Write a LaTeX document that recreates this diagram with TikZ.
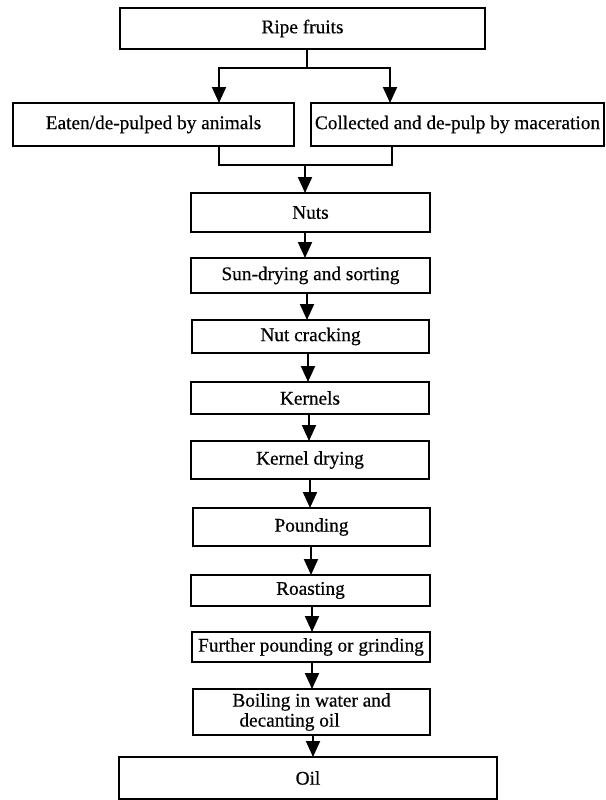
\documentclass[tikz,border=0pt]{standalone}
\usepackage{fontspec}
\setmainfont{Liberation Serif}[FakeBold=0.5]
\usetikzlibrary{arrows.meta,calc}
\begin{document}
\begin{tikzpicture}[x=1pt,y=-1pt,
  box/.style={draw=black,line width=2pt,inner sep=0pt,outer sep=0pt,fill=white,
    font=\fontsize{19.3}{20}\selectfont},
  conn/.style={draw=black,line width=2pt},
  arr/.style={conn,-{Triangle[width=14pt,length=16pt]}}]
\useasboundingbox[fill=white] (0,0) rectangle (605,800);
% boxes
\node[box,minimum width=365pt,minimum height=41pt] (ripe) at (302.5,28.5) {Ripe fruits};
\node[box,minimum width=281pt,minimum height=43pt] (left) at (153.5,124.5) {Eaten/de-pulped by animals};
\node[box,minimum width=293pt,minimum height=43pt] (right) at (457.5,124.5) {Collected and de-pulp by maceration};
\node[box,minimum width=239pt,minimum height=39pt] (nuts) at (310.5,212.5) {Nuts};
\node[box,minimum width=239pt,minimum height=35pt] (sun) at (310.5,275.5) {Sun-drying and sorting};
\node[box,minimum width=237pt,minimum height=33pt] (crack) at (310.5,336.5) {Nut cracking};
\node[box,minimum width=238pt,minimum height=32pt] (kern) at (310,398) {Kernels};
\node[box,minimum width=238pt,minimum height=38pt] (kdry) at (310,460) {Kernel drying};
\node[box,minimum width=237pt,minimum height=38pt] (pound) at (311.5,527) {Pounding};
\node[box,minimum width=239pt,minimum height=31pt] (roast) at (310.5,590.5) {Roasting};
\node[box,minimum width=238pt,minimum height=30pt] (further) at (311,647) {Further pounding or grinding};
\node[box,minimum width=237pt,minimum height=46pt,align=left] (boil) at (311.5,712) {Boiling in water and\\\hspace{7pt}decanting oil};
\node[box,minimum width=378pt,minimum height=42pt] (oil) at (308,778) {Oil};
% split
\coordinate (j1) at (307,68);
\coordinate (bl) at (219,68);
\coordinate (br) at (390,68);
\draw[conn] (ripe.south -| j1) -- (j1);
\draw[arr] (j1) -- (bl) -- (bl |- left.north);
\draw[arr] (j1) -- (br) -- (br |- right.north);
% merge
\coordinate (ml) at (219,165);
\coordinate (mr) at (392,165);
\coordinate (mm) at (305,165);
\draw[conn] (ml |- left.south) -- (ml) -- (mr) -- (mr |- right.south);
\draw[arr] (mm) -- (mm |- nuts.north);
% chain
\draw[arr] ([xshift=-5.5pt]nuts.south) -- ([xshift=-5.5pt]nuts.south |- sun.north);
\draw[arr] ([xshift=-3.5pt]sun.south) -- ([xshift=-3.5pt]sun.south |- crack.north);
\draw[arr] ([xshift=-2.5pt]crack.south) -- ([xshift=-2.5pt]crack.south |- kern.north);
\draw[arr] ([xshift=-1pt]kern.south) -- ([xshift=-1pt]kern.south |- kdry.north);
\draw[arr] (kdry.south) -- (kdry.south |- pound.north);
\draw[arr] ([xshift=-0.5pt]pound.south) -- ([xshift=-0.5pt]pound.south |- roast.north);
\draw[arr] ([xshift=1.5pt]roast.south) -- ([xshift=1.5pt]roast.south |- further.north);
\draw[arr] ([xshift=1pt]further.south) -- ([xshift=1pt]further.south |- boil.north);
\draw[arr] ([xshift=1.5pt]boil.south) -- ([xshift=1.5pt]boil.south |- oil.north);
\end{tikzpicture}
\end{document}
